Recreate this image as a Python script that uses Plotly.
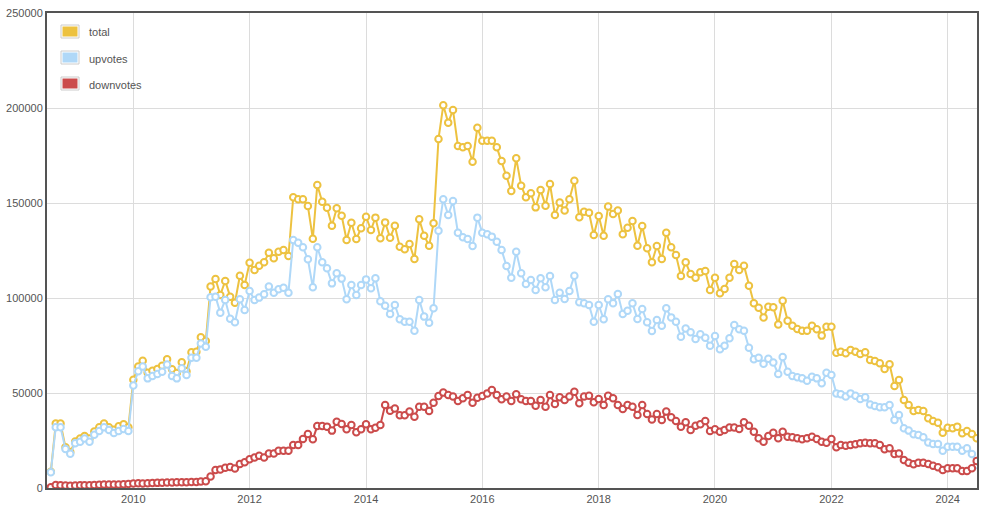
import plotly.graph_objects as go
import pandas as pd

# Monthly data, Aug 2008 .. Jul 2024
months = pd.date_range("2008-08-01", periods=192, freq="MS")

total = [
    8500, 34000, 34000, 21500, 19000, 24500, 26000, 27400, 26000, 29700, 32000, 34000, 32000, 30700, 32500, 33600, 32000,
    57000, 64000, 67000, 60700, 61700, 62600, 64400, 67700, 62500, 60500, 66200, 61400, 71400, 71700, 79300, 77400,
    106000, 110000, 101600, 109000, 100700, 97500, 111700, 106800, 118600, 114700, 117000, 118800, 123800, 120900, 124400,
    125300, 122100, 153000, 152000, 152000, 148400, 131200, 159500, 150700, 147500, 138000, 147200, 143300, 130500,
    139600, 131000, 136700, 142800, 135800,
    142300, 131400, 139800, 131700, 138000, 127000, 125600, 128400, 120500, 141400, 132800, 127500, 139300, 183700,
    201400, 192300, 199000, 180000, 179300, 180000, 171700, 189600, 182800, 182800, 182800, 179300, 172100, 164400,
    156300, 173500, 159100, 153000, 155100,
    147700, 156800, 148600, 160000, 143700, 150200, 146000, 152000, 161700, 142500, 145400, 144900, 133200, 143200,
    132800, 148100, 144200, 146000, 133500, 137000, 140500, 127500, 137900, 126200, 118800, 127400, 120500, 134400,
    126700, 122600, 111600, 118800, 112600,
    110700, 113500, 114200, 104200, 110700, 102500, 104700, 110700, 117900, 114700, 117000, 106500, 97200, 94900, 89800,
    95400, 95100, 86100, 98600, 88000, 85400, 83700, 82800, 82800, 85400, 83500, 80200, 84900, 84900, 71200,
    71700, 70900, 72600, 71700, 70500, 71400, 67400, 66800, 65600, 62600, 65100, 53700, 56800, 46300, 43700, 40500,
    41100, 40500, 36700, 35300, 34400, 29100, 31700, 31400, 32300, 28800, 30000, 28400, 26200,
]

upvotes = [
    8300, 32000, 32000, 20500, 18000, 23500, 24400, 26000, 24400, 28000, 30000, 32000, 30500, 29000, 30000, 31000, 30000,
    54000, 61500, 64000, 57700, 59000, 60000, 61200, 65000, 59000, 57700, 63000, 59500, 68600, 68600, 76100, 74400,
    100400, 100700, 92300, 99000, 89100, 87200, 99300, 93700, 103700, 99000, 100200, 102000, 106000, 102800, 104600,
    105400, 102800, 130500, 129100, 126700, 120400, 105600, 126700, 118800, 115600, 107700, 113000, 110200, 99300,
    106800, 101600, 106800, 109800, 105100,
    110400, 98300, 95900, 91600, 96300, 88800, 87500, 87500, 82800, 99000, 90200, 87000, 94600, 135400, 152000, 143700,
    151000, 134400, 132000, 131000, 127400, 142300, 134400, 133500, 132300, 129600, 125300, 116800, 110700, 124400,
    113000, 107400, 109500,
    104200, 110400, 105600, 111600, 98900, 102800, 99500, 103700, 111700, 97800, 97200, 96300, 87500, 96300, 88800,
    99300, 97200, 102100, 91600, 93300, 97200, 88900, 94200, 87200, 82600, 88400, 85400, 94600, 89800, 87500, 79600,
    84000, 82000,
    78400, 80900, 79100, 74900, 80000, 73000, 74900, 78800, 85800, 83500, 82800, 73800, 67800, 68500, 65400, 68000,
    66000, 60000, 69000, 61200, 59000, 58300, 57700, 56500, 58600, 57700, 55100, 60700, 59500, 49800,
    49300, 48100, 49800, 48600, 46800, 47700, 44000, 43200, 42500, 42500, 43700, 35800, 38400, 31400, 30200, 28300,
    27900, 26700, 24000, 23200, 23200, 19600, 21700, 21700, 21700, 19600, 20900, 17900, 12100,
]

downvotes = [
    400, 1600, 1500, 1300, 1200, 1300, 1400, 1500, 1500, 1600, 1700, 1800, 1800, 1800, 1900, 2000, 2100,
    2400, 2500, 2400, 2500, 2600, 2700, 2800, 2900, 2900, 3000, 3000, 3000, 3100, 3200, 3400, 3500,
    6000, 9500, 9800, 10700, 11000, 10300, 12600, 13500, 15100, 16000, 17000, 16100, 18200, 18200, 19600, 19600, 19600,
    22600, 22600, 25800, 28400, 25600, 32600, 32600, 32300, 30200, 34900, 33700, 30900, 33200, 29300, 30900, 33500, 30900,
    31700, 33200, 43700, 40700, 41900, 38300, 38300, 40200, 37500, 42800, 42800, 40500, 44900, 48400, 50200, 48900,
    48100, 45800, 47200, 48900, 44900, 47500, 48400, 49800, 51600, 48900, 46700, 48100, 45800, 49300, 46700, 45800, 45800,
    43300, 46300, 42800, 48900, 44200, 47700, 46300, 48100, 50700, 44600, 48100, 48600, 45100, 46800, 43700, 48600,
    47200, 43700, 41600, 43700, 42800, 38400, 43700, 38900, 36100, 38900, 35800, 40200, 37200, 35300, 32300, 34600, 30500,
    32800, 33500, 35300, 30000, 30900, 29600, 30500, 31900, 31900, 31100, 34600, 32800, 29600, 26200, 24400, 27400,
    29100, 26200, 29600, 27000, 26700, 26200, 25600, 26200, 27000, 25800, 24400, 23800, 25800, 21400,
    22600, 22300, 22600, 23000, 23500, 23800, 23500, 23500, 22600, 20400, 20900, 17900, 18200, 14700, 13300, 12500,
    13300, 13300, 12600, 11700, 10900, 9500, 10400, 10400, 10400, 8900, 8900, 10400, 14200,
]

series_names = ["total", "upvotes", "downvotes"]
series_colors = ["#edc240", "#afd8f8", "#cb4b4b"]
y_ticks = [0, 50000, 100000, 150000, 200000, 250000]

W, H = 989, 510
L, R, T, B = 47, 12, 13, 22
PW, PH = W - L - R, H - T - B

fig = go.Figure()
for name, vals, col in zip(series_names, [total, upvotes, downvotes], series_colors):
    fig.add_trace(go.Scatter(
        x=months, y=vals, name=name, mode="lines+markers",
        line=dict(color=col, width=2),
        marker=dict(symbol="circle", size=6.5, color="white", line=dict(color=col, width=2)),
    ))

def px_x(p):
    return (p - L) / PW

def px_y(p):
    return (H - B - p) / PH

shapes = []
annotations = []
centers = [31.5, 57.5, 83.5]
for name, col, cy in zip(series_names, series_colors, centers):
    shapes.append(dict(type="rect", xref="paper", yref="paper",
                       x0=px_x(61), x1=px_x(79), y0=px_y(cy - 6.5), y1=px_y(cy + 6.5),
                       line=dict(color="#cccccc", width=1), fillcolor="white", layer="above"))
    shapes.append(dict(type="rect", xref="paper", yref="paper",
                       x0=px_x(62.5), x1=px_x(77.5), y0=px_y(cy - 5), y1=px_y(cy + 5),
                       line=dict(width=0), fillcolor=col, layer="above"))
    annotations.append(dict(xref="paper", yref="paper", x=px_x(87), y=px_y(cy + 1),
                            text=name, showarrow=False, xanchor="left", yanchor="middle",
                            font=dict(size=11, color="#545454")))

axis_common = dict(showgrid=True, gridcolor="#dcdcdc", gridwidth=1, showline=True,
                   linecolor="#545454", linewidth=2, mirror=True, ticks="", zeroline=False,
                   automargin=False, tickfont=dict(size=11, color="#545454"))

fig.update_layout(
    width=W, height=H,
    margin=dict(l=L, r=R, t=T, b=B),
    plot_bgcolor="white", paper_bgcolor="white",
    showlegend=False,
    font=dict(family="Liberation Sans, Arial, sans-serif", size=11, color="#545454"),
    xaxis=dict(type="date", range=["2008-07-08", "2024-07-03"], tick0="2010-01-01",
               dtick="M24", tickformat="%Y", **axis_common),
    yaxis=dict(range=[0, 250000], tickvals=y_ticks, tickformat="d", **axis_common),
    shapes=shapes, annotations=annotations,
)

fig.write_html("out.html")
